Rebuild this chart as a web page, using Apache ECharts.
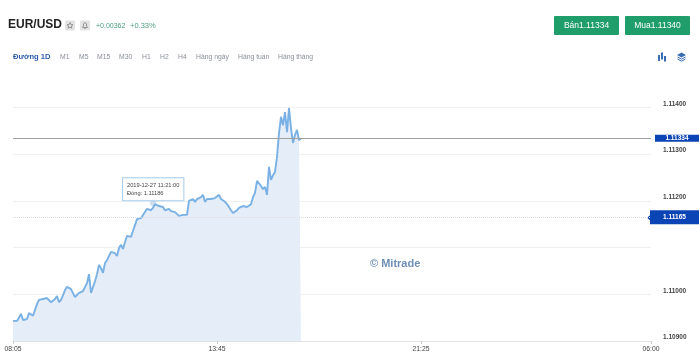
<!DOCTYPE html>
<html><head><meta charset="utf-8">
<style>html,body{margin:0;padding:0;background:#fff}#c{width:700px;height:362px}</style>
<script src="https://cdn.jsdelivr.net/npm/echarts@6/dist/echarts.min.js"></script>
</head><body><div id="c"></div>
<script>
const tickLabels = ['08:05','13:45','21:25','06:00'];
const tickIndexes = [0,102,204,319];
const slotCount = 320;
const priceTicks = ['1.10900','1.11000','1.11200','1.11300','1.11400'];
const closes = [1.10943,1.10943,1.10943,1.10945,1.10958,1.10945,1.10945,1.10947,1.10960,1.10956,1.10954,1.10951,1.10979,1.10988,1.10992,1.10990,1.10992,1.10992,1.10988,1.10983,1.10983,1.10990,1.10996,1.10983,1.10988,1.10998,1.11009,1.11016,1.11013,1.11011,1.11007,1.10994,1.10992,1.11003,1.11007,1.11007,1.11011,1.11024,1.11043,1.11003,1.11007,1.11028,1.11043,1.11063,1.11056,1.11046,1.11067,1.11073,1.11073,1.11091,1.11093,1.11088,1.11082,1.11099,1.11106,1.11097,1.11112,1.11125,1.11125,1.11123,1.11136,1.11148,1.11161,1.11163,1.11163,1.11170,1.11172,1.11183,1.11183,1.11180,1.11185,1.11193,1.11189,1.11189,1.11189,1.11187,1.11180,1.11183,1.11183,1.11178,1.11176,1.11176,1.11176,1.11168,1.11168,1.11170,1.11168,1.11170,1.11200,1.11204,1.11204,1.11198,1.11204,1.11206,1.11208,1.11213,1.11198,1.11204,1.11206,1.11204,1.11206,1.11206,1.11208,1.11213,1.11204,1.11202,1.11198,1.11193,1.11187,1.11180,1.11174,1.11174,1.11180,1.11185,1.11187,1.11189,1.11191,1.11187,1.11187,1.11193,1.11208,1.11217,1.11243,1.11240,1.11232,1.11225,1.11230,1.11213,1.11273,1.11245,1.11255,1.11262,1.11294,1.11345,1.11380,1.11362,1.11390,1.11347,1.11399,1.11356,1.11324,1.11341,1.11352,1.11330,1.11334];
const sellPrice = 1.11334;
const refPrice = 1.11165;
const tipIndex = 70;
const tipTime = '2019-12-27 11:21:00';
const tipClose = 1.11186;
const periods = [['Đường 1D',13],['M1',60],['M5',79],['M15',97],['M30',119],['H1',142],['H2',160],['H4',178],['Hàng ngày',196],['Hàng tuần',238],['Hàng tháng',278]];

const categories = new Array(slotCount).fill('');
tickIndexes.forEach((p,i)=>categories[p]=tickLabels[i]);
const F = 'Arial, "Liberation Sans", sans-serif';
const txt = (x,y,text,size,fill,weight,extra)=>({type:'text',x,y,silent:true,style:Object.assign({text,fontSize:size,fontFamily:F,fill,fontWeight:weight||'normal',textVerticalAlign:'middle'},extra||{})});
const gfx = [
  txt(8,25,'EUR/USD',12,'#222','bold'),
  {type:'rect',shape:{x:65,y:20.5,width:10,height:10,r:1},style:{fill:'#e3e3e3'}},
  {type:'rect',shape:{x:80,y:20.5,width:10,height:10,r:1},style:{fill:'#e3e3e3'}},
  {type:'polygon',shape:{points:[[70,22.5],[70.9,24.5],[73,24.7],[71.4,26.1],[71.9,28.2],[70,27.1],[68.1,28.2],[68.6,26.1],[67,24.7],[69.1,24.5]]},style:{fill:'none',stroke:'#777',lineWidth:0.7}},
  {type:'polygon',shape:{points:[[82.5,27.5],[83.5,26],[83.5,24],[84.3,22.8],[85.7,22.8],[86.5,24],[86.5,26],[87.5,27.5]]},style:{fill:'none',stroke:'#777',lineWidth:0.7}},
  {type:'line',shape:{x1:84.3,y1:28.5,x2:85.7,y2:28.5},style:{stroke:'#777',lineWidth:0.7}},
  txt(96,25.7,'+0.00362',7,'#4a9e7c'),
  txt(130,25.7,'+0.33%',7.5,'#4a9e7c'),
  {type:'rect',shape:{x:554,y:16,width:65,height:19,r:1},style:{fill:'#1f9d6b'}},
  {type:'rect',shape:{x:625,y:16,width:65,height:19,r:1},style:{fill:'#1f9d6b'}},
  txt(586.5,26,'Bán1.11334',8.5,'#fff','normal',{textAlign:'center'}),
  txt(657.5,26,'Mua1.11340',8.5,'#fff','normal',{textAlign:'center'}),
  {type:'rect',shape:{x:658,y:55,width:2,height:6},style:{fill:'#3a6db0'}},
  {type:'rect',shape:{x:661,y:52.5,width:2,height:7},style:{fill:'#3a6db0'}},
  {type:'rect',shape:{x:664,y:56,width:2,height:5.5},style:{fill:'#3a6db0'}},
  {type:'polygon',shape:{points:[[681.5,52.5],[686,55],[681.5,57.5],[677,55]]},style:{fill:'#3a6db0'}},
  {type:'polyline',shape:{points:[[677.5,57],[681.5,59.2],[685.5,57]]},style:{stroke:'#3a6db0',lineWidth:1,fill:'none'}},
  {type:'polyline',shape:{points:[[677.5,59],[681.5,61.2],[685.5,59]]},style:{stroke:'#3a6db0',lineWidth:1,fill:'none'}},
  txt(370,263.5,'© Mitrade',11,'#6f8fb5','bold'),
  {type:'polygon',shape:{points:[[647,217.7],[650,215.2],[650,220.2]]},style:{fill:'#0b45b5'}}
];
periods.forEach((p,i)=>gfx.push(i===0?txt(p[1],57,p[0],7.6,'#2a5caa','bold'):txt(p[1],57,p[0],6.8,'#8a8f98')));

const chart = echarts.init(document.getElementById('c'),null,{renderer:'canvas'});
const priceLabel = (w,h,size)=>({show:true,position:'end',distance:0,formatter:p=>p.value.toFixed(5),color:'#fff',backgroundColor:'#0b45b5',fontSize:size,fontFamily:F,fontWeight:'bold',width:w,height:h,lineHeight:h,align:'center',verticalAlign:'middle'});
chart.setOption({
  animation:false,
  backgroundColor:'#fff',
  graphic:gfx,
  grid:{left:13,right:49,top:60.8,bottom:21,containLabel:false},
  xAxis:{type:'category',data:categories,boundaryGap:false,
    axisLine:{lineStyle:{color:'#e2e2e2'}},
    axisTick:{show:true,length:3,alignWithLabel:true,interval:(i)=>tickIndexes.includes(i),lineStyle:{color:'#ccc'}},
    axisLabel:{interval:(i)=>tickIndexes.includes(i),color:'#444',fontSize:6.8,fontFamily:F,margin:5,showMinLabel:true,showMaxLabel:true,hideOverlap:false},
    splitLine:{show:false}},
  yAxis:{type:'value',position:'right',min:1.109,max:1.115,interval:0.001,scale:true,
    axisLine:{show:false},axisTick:{show:false},
    axisLabel:{formatter:v=>priceTicks.includes(v.toFixed(5))?v.toFixed(5):'',color:'#444',fontSize:6.5,fontFamily:F,fontWeight:'bold',margin:12,showMaxLabel:false,verticalAlign:'bottom'},
    splitLine:{show:true,showMinLine:false,showMaxLine:false,lineStyle:{color:'#f0f0f0',width:1}}},
  series:[{type:'line',data:closes,showSymbol:false,smooth:false,
    lineStyle:{color:'#7ab1e4',width:1.9},
    areaStyle:{color:'#e5edf8',opacity:1},
    markLine:{silent:true,symbol:'none',animation:false,precision:5,data:[
      {yAxis:sellPrice,lineStyle:{color:'#a0a0a0',type:'solid',width:1},label:Object.assign(priceLabel(44,7,6.5),{distance:4,offset:[22,0]})},
      {yAxis:refPrice,lineStyle:{color:'#dcdcdc',type:'dotted',width:1},label:Object.assign(priceLabel(49,14,6.5),{distance:-1,offset:[24.5,0]})}
    ]},
    markPoint:{silent:true,animation:false,data:[{
      coord:[tipIndex,1.11186+0.00009],symbol:'circle',symbolSize:6,
      itemStyle:{color:'rgba(111,168,220,0.35)'},
      label:{show:true,position:[-27,-22],formatter:tipTime+'\nĐóng: '+tipClose.toFixed(5),align:'left',verticalAlign:'top',color:'#444',fontSize:5.7,fontFamily:F,lineHeight:8,backgroundColor:'rgba(255,255,255,0.95)',borderColor:'#a9cdea',borderWidth:1,padding:[3,4,3,4]}
    }]}
  }]
});
</script></body></html>
